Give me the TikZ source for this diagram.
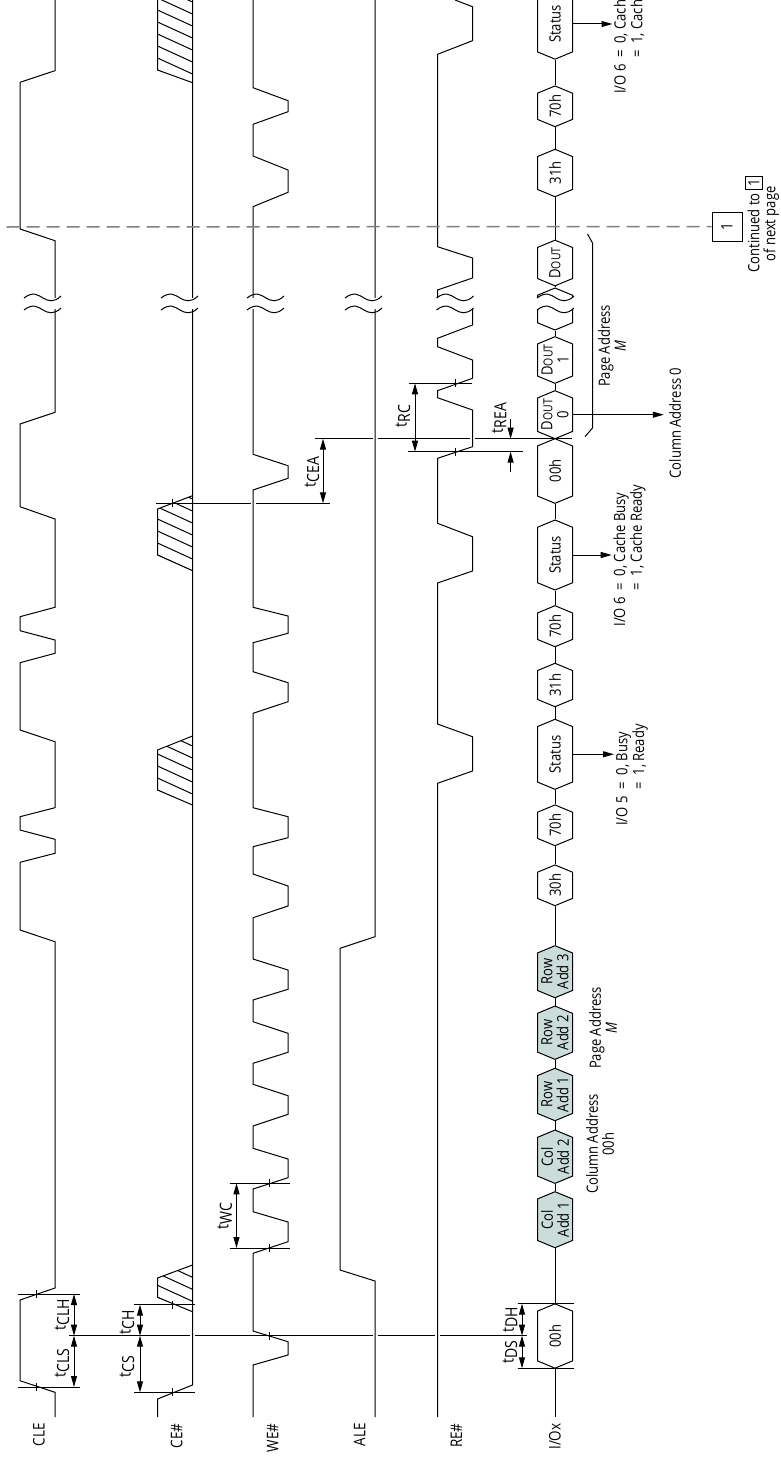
\documentclass[tikz,border=0pt]{standalone}
\usepackage{fontspec}
\setmainfont{Open Sans}[FakeStretch=0.84]
\usetikzlibrary{shapes.symbols,arrows.meta}
\definecolor{hexfill}{HTML}{CBDDDA}
\definecolor{dashgray}{HTML}{808080}
\newcommand{\tsub}[1]{t\raisebox{-3.5pt}{#1}}
\newcommand{\dout}{D{\fontsize{12.5}{14}\selectfont OUT}}

\begin{document}
\begin{tikzpicture}[
  x=1pt,y=-1pt,
  >={Stealth[length=11pt,width=6pt,inset=0pt]},
  line width=1pt,
  font=\fontsize{15.5}{16}\selectfont,
  hex/.style={signal,signal to=east and west,signal from=nowhere,signal pointer angle=135,
    draw,fill=white,rotate=90,minimum height=35pt,minimum width=#1pt,inner sep=0pt,align=center},
  addr/.style={hex=#1,fill=hexfill},
  rot/.style={rotate=90,align=center,inner sep=0pt},
  signame/.style={rot,anchor=east,font=\fontsize{16}{16}\selectfont},
  tim/.style={rot,font=\fontsize{16.7}{17}\selectfont},
  dim/.style={<->},
  sig/.style={line join=miter}
]
  \useasboundingbox (0,0) rectangle (780,1464);

  % timing reference lines
  \draw (69,1335.7) -- (527.3,1335.7);
  \draw (18,1294) -- (80,1294);
  \draw (18,1387) -- (80,1387);
  \draw (134,1304.7) -- (195,1304.7);
  \draw (134,1392.3) -- (195,1392.3);
  \draw (229.5,1183.3) -- (289.7,1183.3);
  \draw (229.5,1248) -- (289.7,1248);
  \draw (517.7,1303.7) -- (574,1303.7);
  \draw (517.7,1368.3) -- (574,1368.3);
  \draw (156,503.3) -- (330,503.3);
  \draw (315,438.7) -- (572,438.7);
  \draw (408.7,383.3) -- (472,383.3);
  \draw (408,451.7) -- (523,451.7);
  \foreach \gx/\gy in {192.5/1335.7,375/1335.7,437.5/1335.7,253/503.3,375/438.7,472.5/438.7}
    \fill[white] (\gx-2.5,\gy-2) rectangle (\gx+2.5,\gy+2);

  % hatched regions
  \foreach \ya/\yb/\yc/\yd in {1265/1278/1297.3/1311.7,736/750/790/805,495.7/509/555/570.7,-33/-20/70/82.7}{
    \begin{scope}
      \clip (192.5,\ya) -- (157.5,\yb) -- (157.5,\yc) -- (192.5,\yd) -- cycle;
      \foreach \k in {0,...,9}
        \draw (157.5,\yc-12*\k) -- (192.5,\yc-12*\k+16);
    \end{scope}
    \draw[sig] (192.5,\ya) -- (157.5,\yb) -- (157.5,\yc) -- (192.5,\yd);
  }

  % waveforms
  \draw[sig] (55,1417) -- (55,1392.3) -- (20,1380.7) -- (20,1300) -- (55,1288) -- (55,941.7)
    -- (20,930) -- (20,862.3) -- (55,853.3) -- (55,839.3) -- (20,830) -- (20,816.7) -- (55,807.7)
    -- (55,741.7) -- (20,730) -- (20,662.7) -- (55,653.3) -- (55,640) -- (20,630.7) -- (20,616.7)
    -- (55,607.3) -- (55,519) -- (20,506.7) -- (20,424) -- (55,412.3) -- (55,240.7) -- (20,229)
    -- (20,82.3) -- (55,70.7) -- (55,0);
  \draw[sig] (157.5,1417) -- (157.5,1399) -- (192.5,1385) -- (192.5,0);
  \draw[sig] (253,1417) -- (253,1365) -- (288,1355) -- (288,1341.7) -- (253,1331) -- (253,1253.3)
    -- (288,1241.7) -- (288,1222) -- (253,1211.7) -- (253,1189) -- (288,1177.7) -- (288,1159)
    -- (253,1148.3) -- (253,1126) -- (288,1114.3) -- (288,1095.7) -- (253,1084.3) -- (253,1063.3)
    -- (288,1052.3) -- (288,1033.3) -- (253,1021.7) -- (253,1000) -- (288,989.3) -- (288,970)
    -- (253,959) -- (253,917.7) -- (288,906) -- (288,886) -- (253,874) -- (253,846.7)
    -- (288,837.7) -- (288,816.7) -- (253,807.7) -- (253,713.3) -- (288,701.7) -- (288,682.7)
    -- (253,671.7) -- (253,642.7) -- (288,633.3) -- (288,616) -- (253,607.3) -- (253,490)
    -- (288,478.3) -- (288,465.7) -- (253,454.3) -- (253,206.7) -- (288,192.3) -- (288,170)
    -- (253,156) -- (253,124.3) -- (288,111.7) -- (288,100.7) -- (253,87.7) -- (253,0);
  \draw[sig] (375,1417) -- (375,1281) -- (340,1270) -- (340,948.3) -- (375,936.7) -- (375,0);
  \draw[sig] (437.5,1417) -- (437.5,783.3) -- (472.5,771) -- (472.5,736.7) -- (437.5,724)
    -- (437.5,583) -- (472.5,571) -- (472.5,536.7) -- (437.5,523.3) -- (437.5,458.3)
    -- (472.5,446.7) -- (472.5,410) -- (437.5,397.7) -- (437.5,390.7) -- (472.5,378.3)
    -- (472.5,360) -- (437.5,346.7) -- (437.5,338.3) -- (472.5,325) -- (472.5,304)
    -- (437.5,300) -- (437.5,290) -- (472.5,278) -- (472.5,258) -- (437.5,246.7)
    -- (437.5,54.3) -- (472.5,40.7) -- (472.5,6.7) -- (455,0);

  % timing marks
  \foreach \cx/\cy in {36/1294,36/1387,172/1304.7,172/1392.3,172.7/503.3,269.5/1335.7,269.5/1183.3,
    269.5/1248,455.5/383.3,455.5/451.7,555/1303.7,555/1368.3}
    \draw (\cx,\cy-4) -- (\cx,\cy+4);

  % signal names
  \node[signame] (cle) at (39,1423) {CLE};
  \node[signame] (ce) at (176.7,1423) {CE\#};
  \node[signame] (we) at (272.7,1423) {WE\#};
  \node[signame] (ale) at (359.7,1423) {ALE};
  \node[signame] (re) at (456.5,1423) {RE\#};
  \node[signame] (io) at (555,1423) {I/Ox};

  % bus
  \coordinate (iostart) at (555,1417);
  \node[hex=64.3] (cmda) at (555,1336) {00h};
  \node[addr=56] (cola) at (555,1219.7) {Col\\Add 1};
  \node[addr=53.3] (colb) at (555,1156.7) {Col\\Add 2};
  \node[addr=52.4] (rowa) at (555,1094.5) {Row\\Add 1};
  \node[addr=53.3] (rowb) at (555,1032.7) {Row\\Add 2};
  \node[addr=52] (rowc) at (555,971.7) {Row\\Add 3};
  \node[hex=40.7] (cmdb) at (555,885.3) {30h};
  \node[hex=40.7] (rsta) at (555,825.3) {70h};
  \node[hex=70] (sta) at (555,754.3) {Status};
  \node[hex=43.4] (cmdc) at (555,685) {31h};
  \node[hex=41] (rstb) at (555,626.2) {70h};
  \node[hex=70] (stb) at (555,555) {Status};
  \node[hex=64.6] (cmdd) at (555,471) {00h};
  \node[hex=48] (outa) at (555,414.7) {\dout\\0};
  \node[hex=46.6] (outb) at (555,360) {\dout\\1};
  \node[hex=42] (outc) at (555,309) {};
  \node[hex=44] (outd) at (555,263) {\dout};
  \node[hex=47.4] (cmde) at (555,173) {31h};
  \node[hex=40.7] (rstc) at (555,106.3) {70h};
  \node[hex=70.3] (stc) at (555,24) {Status};
  \draw (iostart) -- (cmda.west);
  \foreach \lo/\hi in {cmda/cola,cola/colb,colb/rowa,rowa/rowb,rowb/rowc,rowc/cmdb,cmdb/rsta,rsta/sta,
    sta/cmdc,cmdc/rstb,rstb/stb,stb/cmdd,cmdd/outa,outa/outb,outb/outc,outc/outd,outd/cmde,cmde/rstc,rstc/stc}
    \draw (\lo.east) -- (\hi.west);

  % breaks
  \foreach \xb in {24,161,247,345,436.5,537}{
    \fill[white] (\xb,298) rectangle (\xb+37,309);
    \draw (\xb,298) .. controls (\xb+9,291) and (\xb+14,295) .. (\xb+19,298) .. controls (\xb+24,301) and (\xb+30,303) .. (\xb+37,296);
    \draw (\xb,310) .. controls (\xb+9,303) and (\xb+14,307) .. (\xb+19,310) .. controls (\xb+24,313) and (\xb+30,315) .. (\xb+37,308);
  }

  % intervals
  \draw[dim] (74,1335.7) -- (74,1294);
  \draw[dim] (74,1335.7) -- (74,1387);
  \draw[dim] (140,1335.7) -- (140,1304.7);
  \draw[dim] (140,1335.7) -- (140,1392.3);
  \draw[dim] (236.5,1183.3) -- (236.5,1248);
  \draw[dim] (522,1335.7) -- (522,1303.7);
  \draw[dim] (522,1335.7) -- (522,1368.3);
  \draw[dim] (323,503.3) -- (323,438.7);
  \draw[dim] (415,383.3) -- (415,451.7);
  \draw[->] (510.6,419) -- (510.6,438.7);
  \draw[->] (510.6,471.7) -- (510.6,451.7);
  \node[tim] (tclh) at (62,1315) {\tsub{CLH}};
  \node[tim] (tcls) at (62,1363) {\tsub{CLS}};
  \node[tim] (tch) at (127,1322) {\tsub{CH}};
  \node[tim] (tcs) at (127,1367) {\tsub{CS}};
  \node[tim] (twc) at (224.6,1216) {\tsub{WC}};
  \node[tim] (tdh) at (510,1320) {\tsub{DH}};
  \node[tim] (tds) at (510,1352) {\tsub{DS}};
  \node[tim] (tcea) at (312,472) {\tsub{CEA}};
  \node[tim] (trc) at (403,416) {\tsub{RC}};
  \node[tim] (trea) at (499,418) {\tsub{REA}};

  % status and address notes
  \coordinate (stae) at (614,754.3);
  \coordinate (stbe) at (611.7,555);
  \coordinate (stce) at (612.5,24);
  \coordinate (oute) at (663.8,414.7);
  \draw[->] (sta.south) -- (stae);
  \draw[->] (stb.south) -- (stbe);
  \draw[->] (stc.south) -- (stce);
  \draw[->] (outa.south) -- (oute);
  \node[rot] (busy) at (632.5,775) {\begin{tabular}{@{}r@{\ \ =\ \ }l@{}}I/O 5&0, Busy\\&1, Ready\end{tabular}};
  \node[rot] (cachea) at (630,555.5) {\begin{tabular}{@{}r@{\ \ =\ \ }l@{}}I/O 6&0, Cache Busy\\&1, Cache Ready\end{tabular}};
  \node[rot] (cacheb) at (630.5,23) {\begin{tabular}{@{}r@{\ \ =\ \ }l@{}}I/O 6&0, Cache Busy\\&1, Cache Ready\end{tabular}};
  \node[rot] (cola0) at (675,423) {Column Address 0};
  \node[rot] (pagea) at (612,346) {Page Address\\\textit{M}};
  \node[rot] (pageb) at (603,1028) {Page Address\\\textit{M}};
  \node[rot] (colad) at (600,1144) {Column Address\\00h};
  \draw (587.5,234) -- (592.5,243) -- (592.5,428) -- (585,436.7);

  % continuation
  \coordinate (dashstart) at (6.5,227);
  \node[draw,rotate=90,minimum width=29pt,minimum height=30pt,inner sep=0pt,font=\fontsize{16}{16}\selectfont] (cont) at (727,226.5) {1};
  \draw[dashgray,line width=1.5pt,dash pattern=on 13pt off 7pt] (dashstart) -- (cont.north);
  \node[rot] (contnote) at (762,224) {Continued to \fbox{1}\\of next page};
\end{tikzpicture}
\end{document}
